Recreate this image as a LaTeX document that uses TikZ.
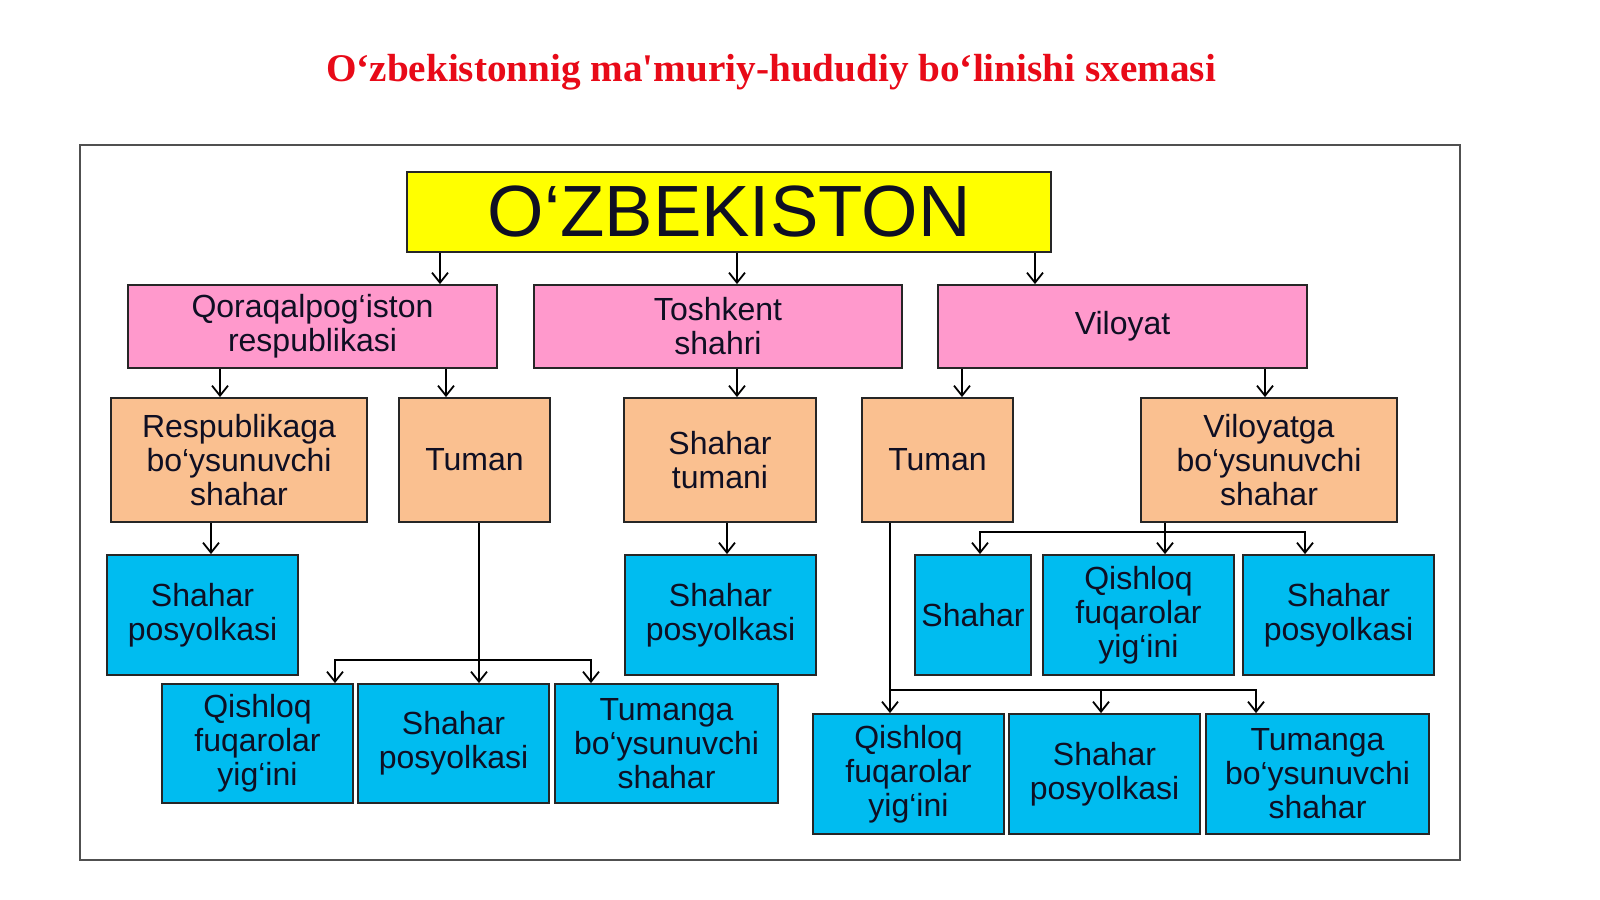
\documentclass[tikz,border=0pt]{standalone}
\usepackage{fontspec}
\setsansfont{Liberation Sans}
\newfontfamily\titlefont{Liberation Serif}
\usetikzlibrary{positioning, arrows.meta}

\definecolor{titlered}{RGB}{232,10,24}
\definecolor{topyellow}{RGB}{255,255,0}
\definecolor{respink}{RGB}{255,153,204}
\definecolor{midorange}{RGB}{250,192,144}
\definecolor{lowblue}{RGB}{0,188,240}
\definecolor{framegray}{RGB}{80,80,80}
\definecolor{boxtext}{RGB}{15,15,35}

\begin{document}
\begin{tikzpicture}[x=0.5pt, y=-0.5pt,
    >={Straight Barb[length=5pt, width=8pt]},
    unit/.style={draw=black!85, line width=0.9pt, inner sep=0pt, align=center, text=boxtext,
        font=\sffamily\fontsize{16}{17}\selectfont},
    topbox/.style={unit, fill=topyellow, font=\sffamily\fontsize{36.3}{40}\selectfont},
    pinkbox/.style={unit, fill=respink, minimum height=41.5pt},
    orangebox/.style={unit, fill=midorange, minimum height=62pt},
    bluebox/.style={unit, fill=lowblue, minimum height=60pt},
    arr/.style={line width=0.9pt, ->},
    link/.style={line width=0.9pt}]

    % Outer frame
    \draw[framegray, line width=1pt] (80,145) rectangle (1460,860);

    % Title
    \node[text=titlered, font=\titlefont\bfseries\fontsize{19.6}{23}\selectfont] (title) at (771,72) {O‘zbekistonnig ma'muriy-hududiy bo‘linishi sxemasi};

    % Top level
    \node[topbox, minimum width=322pt, minimum height=40pt] (uzb) at (729,212) {O‘ZBEKISTON};

    % Second level
    \node[pinkbox, minimum width=184.5pt] (qor) at (312.5,326.5) {Qoraqalpog‘iston\\respublikasi};
    \node[pinkbox, minimum width=184pt] (tosh) at (718,326.5) {Toshkent\\shahri};
    \node[pinkbox, minimum width=184.5pt] (vil) at (1122.5,326.5) {Viloyat};

    % Third level
    \node[orangebox, minimum width=128pt] (resp) at (239,460) {Respublikaga\\bo‘ysunuvchi\\shahar};
    \node[orangebox, minimum width=75.5pt] (tuman1) at (474.5,460) {Tuman};
    \node[orangebox, minimum width=96pt] (shtum) at (720,460) {Shahar\\tumani};
    \node[orangebox, minimum width=75.5pt] (tuman2) at (937.5,460) {Tuman};
    \node[orangebox, minimum width=128pt] (vilga) at (1269,460) {Viloyatga\\bo‘ysunuvchi\\shahar};

    % Fourth level
    \node[bluebox, minimum width=95.5pt] (shp1) at (202.5,615) {Shahar\\posyolkasi};
    \node[bluebox, minimum width=95.5pt] (shp2) at (720.5,615) {Shahar\\posyolkasi};
    \node[bluebox, minimum width=58pt] (sh3) at (973,615) {Shahar};
    \node[bluebox, minimum width=95.5pt] (qi3) at (1138.5,615) {Qishloq\\fuqarolar\\yig‘ini};
    \node[bluebox, minimum width=95.5pt] (shp3) at (1338.5,615) {Shahar\\posyolkasi};

    % Fifth level, left
    \node[bluebox, minimum width=95.5pt, minimum height=59.5pt] (qil) at (257.5,743.5) {Qishloq\\fuqarolar\\yig‘ini};
    \node[bluebox, minimum width=95.5pt, minimum height=59.5pt] (shpl) at (453.5,743.5) {Shahar\\posyolkasi};
    \node[bluebox, minimum width=111.5pt, minimum height=59.5pt] (tul) at (666.5,743.5) {Tumanga\\bo‘ysunuvchi\\shahar};

    % Fifth level, right
    \node[bluebox, minimum width=95.5pt] (qir) at (908.5,774) {Qishloq\\fuqarolar\\yig‘ini};
    \node[bluebox, minimum width=95.5pt] (shpr) at (1104.5,774) {Shahar\\posyolkasi};
    \node[bluebox, minimum width=111.5pt] (tur) at (1317.5,774) {Tumanga\\bo‘ysunuvchi\\shahar};

    % Junction points
    \coordinate (vj) at (1165,532);
    \coordinate (tj1) at (479,660);
    \coordinate (tj2) at (890,690);

    % Arrows from the top box
    \draw[arr] (uzb.south -| 440,0) -- (qor.north -| 440,0);
    \draw[arr] (uzb.south -| 737,0) -- (tosh.north -| 737,0);
    \draw[arr] (uzb.south -| 1035,0) -- (vil.north -| 1035,0);

    % Arrows from the second level
    \draw[arr] (qor.south -| 220,0) -- (resp.north -| 220,0);
    \draw[arr] (qor.south -| 446,0) -- (tuman1.north -| 446,0);
    \draw[arr] (tosh.south -| 737,0) -- (shtum.north -| 737,0);
    \draw[arr] (vil.south -| 962,0) -- (tuman2.north -| 962,0);
    \draw[arr] (vil.south -| 1265,0) -- (vilga.north -| 1265,0);

    % Arrows from the third level
    \draw[arr] (resp.south -| 211,0) -- (shp1.north -| 211,0);
    \draw[arr] (shtum.south -| 727,0) -- (shp2.north -| 727,0);
    \draw[link] (vilga.south -| vj) -- (vj);
    \draw[arr] (vj) -| (sh3.north -| 980,0);
    \draw[arr] (vj) -- (qi3.north -| vj);
    \draw[arr] (vj) -| (shp3.north -| 1305,0);

    % Tuman branches
    \draw[arr] (tuman1.south -| tj1) -- (shpl.north -| tj1);
    \draw[arr] (tj1) -| (qil.north -| 335,0);
    \draw[arr] (tj1) -| (tul.north -| 591,0);
    \draw[arr] (tuman2.south -| tj2) -- (qir.north -| tj2);
    \draw[arr] (tj2) -| (shpr.north -| 1101,0);
    \draw[arr] (tj2) -| (tur.north -| 1256,0);

    % Page size
    \pgfresetboundingbox
    \useasboundingbox (0,0) rectangle (1600,899);

\end{tikzpicture}
\end{document}
